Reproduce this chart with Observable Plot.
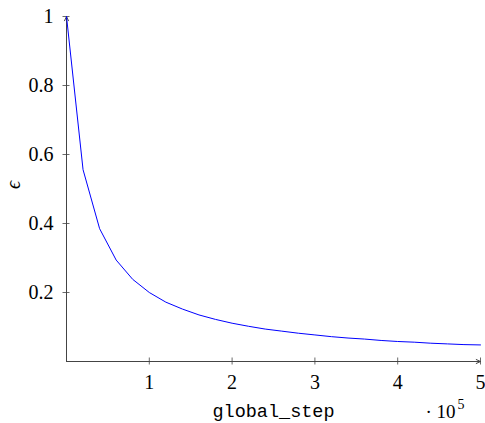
<!DOCTYPE html>
<html>
<head>
<meta charset="utf-8">
<script src="https://cdn.jsdelivr.net/npm/d3@7"></script>
<script src="https://cdn.jsdelivr.net/npm/@observablehq/plot@0.6"></script>
<style>
  html, body { margin: 0; padding: 0; background: #fff; }
  #chart svg { display: block; }
</style>
</head>
<body>
<div id="chart"></div>
<script>
const steps = [0, 20000, 40000, 60000, 80000, 100000, 120000, 140000, 160000, 180000, 200000, 220000, 240000, 260000, 280000, 300000, 320000, 340000, 360000, 380000, 400000, 420000, 440000, 460000, 480000, 500000];
const epsilon = [1, 0.556, 0.385, 0.294, 0.238, 0.2, 0.172, 0.152, 0.135, 0.122, 0.111, 0.102, 0.094, 0.088, 0.082, 0.077, 0.072, 0.068, 0.065, 0.061, 0.058, 0.056, 0.053, 0.051, 0.049, 0.048];
const xTicks = [100000, 200000, 300000, 400000, 500000];
const xTickLabels = ["1", "2", "3", "4", "5"];
const yTicks = [0.2, 0.4, 0.6, 0.8, 1];
const yTickLabels = ["0.2", "0.4", "0.6", "0.8", "1"];
const xLabel = "global_step";
const yLabel = "\u03F5";
const xScaleLabel = "\u00B7 10";
const xScaleExp = "5";

const data = steps.map((s, i) => ({step: s, eps: epsilon[i]}));
const serif = "Liberation Serif";
const mono = "Liberation Mono";
const axisColor = "#444";

const chart = Plot.plot({
  width: 485,
  height: 423,
  marginLeft: 66,
  marginRight: 5,
  marginTop: 16,
  marginBottom: 62,
  x: {domain: [0, 500000], axis: null},
  y: {domain: [0, 1], axis: null},
  style: {background: "#fff"},
  marks: [
    Plot.arrow([0], {x1: 0, y1: 0, x2: 500000, y2: 0, stroke: axisColor, strokeWidth: 1, headLength: 7, headAngle: 50}),
    Plot.arrow([0], {x1: 0, y1: 0, x2: 0, y2: 1, stroke: axisColor, strokeWidth: 1, headLength: 7, headAngle: 50}),
    Plot.ruleX(xTicks, {x: d => d, y1: 0, y2: 0, insetTop: -3.5, insetBottom: -3.5, stroke: axisColor, strokeWidth: 0.8}),
    Plot.ruleY(yTicks, {y: d => d, x1: 0, x2: 0, insetLeft: -3.5, insetRight: -3.5, stroke: axisColor, strokeWidth: 0.8}),
    Plot.text(xTicks, {x: d => d, y: 0, text: (d, i) => xTickLabels[i], dy: 21, lineAnchor: "middle", fontFamily: serif, fontSize: 20, fill: "#000"}),
    Plot.text(yTicks, {x: 0, y: d => d, text: (d, i) => yTickLabels[i], dx: -13, textAnchor: "end", lineAnchor: "middle", fontFamily: serif, fontSize: 20, fill: "#000"}),
    Plot.line(data, {x: "step", y: "eps", stroke: "#0000ff", strokeWidth: 1}),
    Plot.text([xLabel], {frameAnchor: "bottom", text: d => d, dy: 50, lineAnchor: "middle", fontFamily: mono, fontSize: 18.5, fill: "#000"}),
    Plot.text([yLabel], {frameAnchor: "left", text: d => d, dx: -53, rotate: -90, lineAnchor: "middle", fontFamily: serif, fontSize: 20, fontStyle: "italic", fill: "#000"}),
    Plot.text([xScaleLabel], {frameAnchor: "bottom-right", text: d => d, dx: -25, dy: 50, textAnchor: "end", lineAnchor: "middle", fontFamily: serif, fontSize: 19, fill: "#000"}),
    Plot.text([xScaleExp], {frameAnchor: "bottom-right", text: d => d, dx: -16, dy: 43, textAnchor: "end", lineAnchor: "middle", fontFamily: serif, fontSize: 14, fill: "#000"})
  ]
});
document.getElementById("chart").appendChild(chart);
</script>
</body>
</html>
